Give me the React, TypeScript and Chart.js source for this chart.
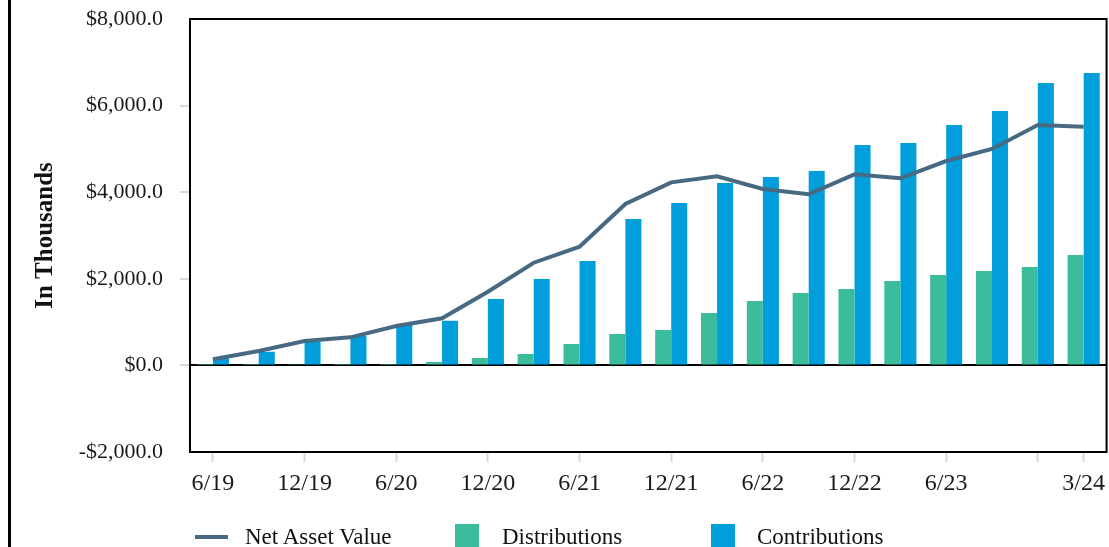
import { useEffect, useRef } from 'react';
import { Chart, registerables } from 'chart.js';

Chart.register(...registerables);

const categories = ['6/19', '9/19', '12/19', '3/20', '6/20', '9/20', '12/20', '3/21', '6/21', '9/21', '12/21', '3/22', '6/22', '9/22', '12/22', '3/23', '6/23', '9/23', '12/23', '3/24'];
const netAssetValue = [141, 332, 563, 648, 910, 1088, 1702, 2372, 2742, 3727, 4228, 4367, 4074, 3951, 4413, 4321, 4720, 4998, 5552, 5513];
const distributions = [10, 12, 15, 35, 35, 80, 170, 265, 494, 725, 817, 1210, 1487, 1672, 1764, 1949, 2088, 2180, 2273, 2550];
const contributions = [164, 316, 547, 679, 933, 1032, 1533, 1995, 2411, 3381, 3751, 4212, 4351, 4489, 5090, 5136, 5552, 5875, 6522, 6753];
const yTickValues = [-2000, 0, 2000, 4000, 6000, 8000];
const labeledCategories = ['6/19', '12/19', '6/20', '12/20', '6/21', '12/21', '6/22', '12/22', '6/23', '3/24'];
const tickedCategories = [...labeledCategories, '12/23'];

const FONT = "'Liberation Serif', 'Times New Roman', serif";
const NAV_COLOR = '#476A82';
const DIST_COLOR = '#3BBC9C';
const CONTRIB_COLOR = '#009FDB';

const fmtMoney = (v: number) => {
  const abs = Math.abs(v).toLocaleString('en-US', { minimumFractionDigits: 1, maximumFractionDigits: 1 });
  return (v < 0 ? '-$' : '$') + abs;
};

const framePlugin = {
  id: 'frame',
  afterDatasetsDraw(chart: any) {
    const { ctx, chartArea: a } = chart;
    ctx.save();
    ctx.strokeStyle = '#000';
    ctx.lineWidth = 2;
    ctx.strokeRect(a.left, a.top, a.right - a.left, a.bottom - a.top);
    ctx.restore();
  },
};

export default function App() {
  const ref = useRef<HTMLCanvasElement>(null);

  useEffect(() => {
    if (!ref.current) return;
    const chart = new Chart(ref.current, {
      type: 'bar',
      data: {
        labels: categories,
        datasets: [
          {
            type: 'line',
            label: 'Net Asset Value',
            data: netAssetValue,
            borderColor: NAV_COLOR,
            backgroundColor: NAV_COLOR,
            borderWidth: 4,
            pointRadius: 0,
            tension: 0,
            order: 0,
          } as any,
          {
            type: 'bar',
            label: 'Distributions',
            data: distributions,
            backgroundColor: DIST_COLOR,
            categoryPercentage: 0.7,
            barPercentage: 1.0,
            order: 1,
          },
          {
            type: 'bar',
            label: 'Contributions',
            data: contributions,
            backgroundColor: CONTRIB_COLOR,
            categoryPercentage: 0.7,
            barPercentage: 1.0,
            order: 2,
          },
        ],
      },
      options: {
        responsive: false,
        animation: false,
        devicePixelRatio: 1,
        layout: { padding: { top: 19, right: 0, bottom: 45, left: 0 } },
        plugins: {
          legend: { display: false },
          tooltip: { enabled: false },
        },
        font: { family: FONT },
        scales: {
          x: {
            offset: true,
            border: { display: false },
            grid: {
              offset: false,
              drawOnChartArea: false,
              tickLength: 10,
              tickWidth: 2,
              tickColor: (c: any) => (tickedCategories.includes(categories[c.index]) ? '#d9d9d9' : 'rgba(0,0,0,0)'),
            },
            ticks: {
              autoSkip: false,
              maxRotation: 0,
              minRotation: 0,
              padding: 7,
              color: '#1a1a1a',
              font: { family: FONT, size: 24 },
              callback: (_v: any, i: number) => (labeledCategories.includes(categories[i]) ? categories[i] : ''),
            },
            afterFit: (s: any) => {
              s.height = 50;
            },
          },
          y: {
            min: -2000,
            max: 8000,
            border: { display: false },
            afterBuildTicks: (s: any) => {
              s.ticks = yTickValues.map((v) => ({ value: v }));
            },
            grid: {
              color: (c: any) => (c.tick && c.tick.value === 0 ? '#000' : 'rgba(0,0,0,0)'),
              lineWidth: 2,
              tickLength: 10,
              tickWidth: 2,
              tickColor: (c: any) =>
                c.tick && (c.tick.value === 8000 || c.tick.value === -2000) ? 'rgba(0,0,0,0)' : '#d9d9d9',
            },
            ticks: {
              padding: 17,
              color: '#1a1a1a',
              font: { family: FONT, size: 22 },
              callback: (v: any) => fmtMoney(Number(v)),
            },
            title: {
              display: true,
              text: 'In Thousands',
              color: '#111',
              font: { family: FONT, size: 25, weight: 'bold' },
              padding: { top: 20, bottom: 0 },
            },
            afterFit: (s: any) => {
              s.width = 179;
              s.paddingTop = 0;
              s.paddingBottom = 0;
            },
          },
        },
      } as any,
      plugins: [framePlugin],
    });
    return () => chart.destroy();
  }, []);

  const textStyle: any = {
    position: 'absolute',
    top: 525,
    fontFamily: FONT,
    fontSize: 23,
    lineHeight: '23px',
    color: '#111',
    whiteSpace: 'nowrap',
  };

  return (
    <div style={{ position: 'absolute', left: 0, top: 0, width: 1109, height: 547, overflow: 'hidden', background: '#fff' }}>
      <div style={{ position: 'absolute', left: 8, top: 0, width: 3, height: 547, background: '#000' }} />
      <canvas ref={ref} width={1101} height={547} style={{ position: 'absolute', left: 11, top: 0, width: 1101, height: 547 }} />
      <div style={{ position: 'absolute', left: 195, top: 535, width: 33, height: 4, background: NAV_COLOR }} />
      <div style={{ ...textStyle, left: 245 }}>Net Asset Value</div>
      <div style={{ position: 'absolute', left: 455, top: 524, width: 24, height: 24, background: DIST_COLOR }} />
      <div style={{ ...textStyle, left: 502 }}>Distributions</div>
      <div style={{ position: 'absolute', left: 711, top: 524, width: 24, height: 24, background: CONTRIB_COLOR }} />
      <div style={{ ...textStyle, left: 757 }}>Contributions</div>
    </div>
  );
}
